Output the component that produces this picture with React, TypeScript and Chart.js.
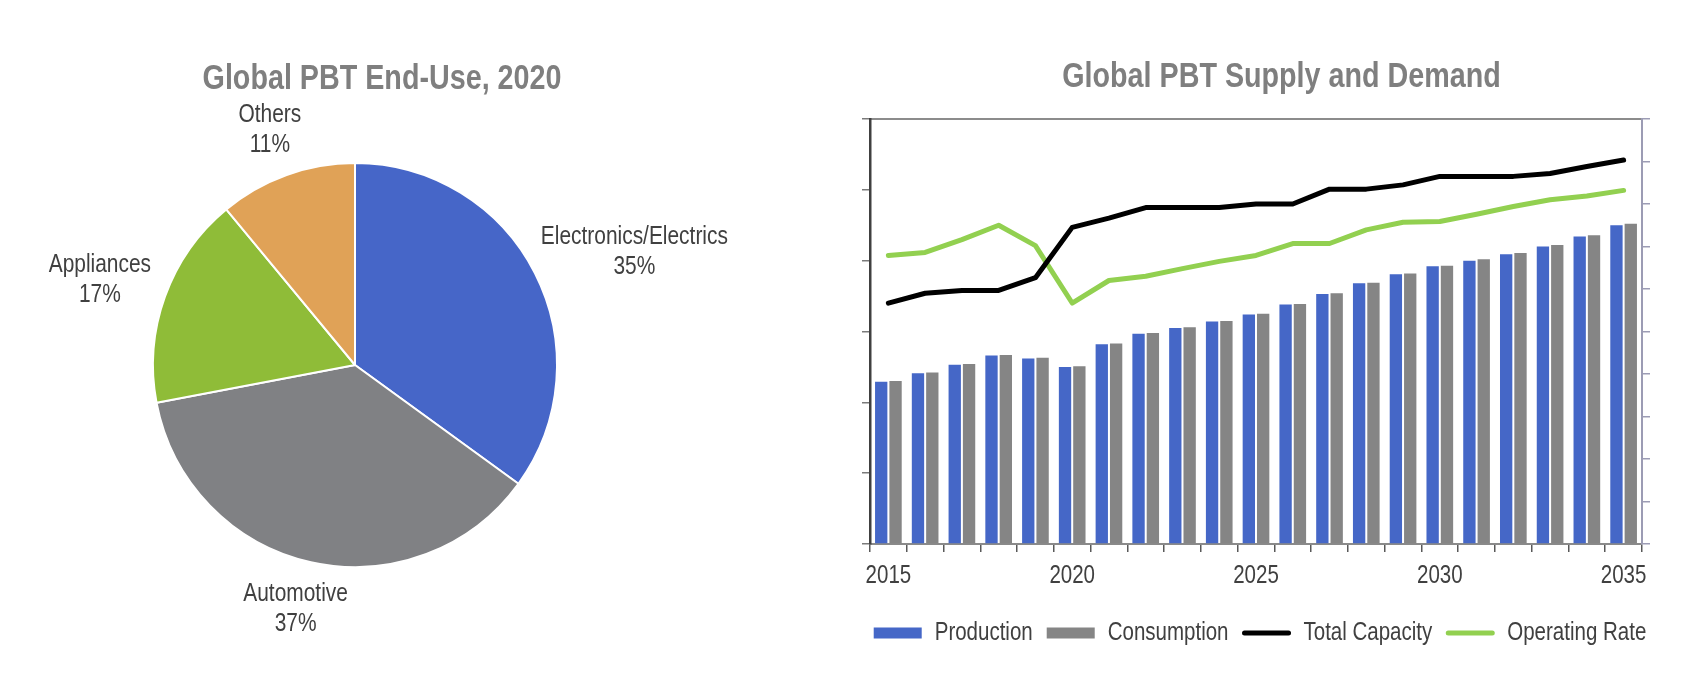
import React, { useEffect, useRef } from "react";
import { Chart, registerables } from "chart.js";

Chart.register(...registerables);

const FONT = '"Liberation Sans", Arial, sans-serif';
const NARROW = 0.82; // horizontal squeeze to imitate Arial Narrow
const TEXT_DARK = "#404040";
const TITLE_GRAY = "#7f7f7f";

// ---------- Pie data ----------
const pieTitle = "Global PBT End-Use, 2020";
const pieLabels = ["Electronics/Electrics", "Automotive", "Appliances", "Others"];
const pieValues = [35, 37, 17, 11];
const pieColors = ["#4666C8", "#808184", "#8FBC38", "#E0A257"];

// ---------- Supply / demand data ----------
const barTitle = "Global PBT Supply and Demand";
const years = [
  "2015", "2016", "2017", "2018", "2019", "2020", "2021", "2022", "2023", "2024", "2025",
  "2026", "2027", "2028", "2029", "2030", "2031", "2032", "2033", "2034", "2035",
];
const xTickLabels = ["2015", "2020", "2025", "2030", "2035"];
const production = [
  1145, 1205, 1265, 1330, 1310, 1250, 1410, 1485, 1525, 1570, 1620,
  1690, 1765, 1840, 1905, 1960, 2000, 2045, 2100, 2170, 2250,
];
const consumption = [
  1150, 1210, 1270, 1335, 1315, 1255, 1415, 1490, 1530, 1575, 1625,
  1695, 1770, 1845, 1910, 1965, 2010, 2055, 2110, 2180, 2260,
];
const totalCapacity = [
  1700, 1770, 1790, 1790, 1880, 2235, 2300, 2375, 2375, 2375, 2400,
  2400, 2505, 2505, 2535, 2595, 2595, 2595, 2615, 2665, 2710,
];
const operatingRate = [
  67.9, 68.6, 71.6, 75.0, 70.2, 56.7, 62.0, 63.0, 64.8, 66.5, 67.9,
  70.7, 70.7, 73.9, 75.7, 75.9, 77.6, 79.4, 81.0, 81.9, 83.2,
];
const seriesNames = ["Production", "Consumption", "Total Capacity", "Operating Rate"];
const seriesColors = ["#4567C7", "#858585", "#000000", "#92D050"];

// ---------- helpers ----------
function fillNarrow(ctx: CanvasRenderingContext2D, text: string, x: number, y: number, sx: number) {
  ctx.save();
  ctx.translate(x, y);
  ctx.scale(sx, 1);
  ctx.fillText(text, 0, 0);
  ctx.restore();
}

// ---------- Plugins ----------
const canvasTitlePlugin = {
  id: "canvasTitle",
  afterDraw(chart: any, _args: any, opts: any) {
    if (!opts || !opts.text) return;
    const ctx = chart.ctx;
    ctx.save();
    ctx.font = `bold ${opts.size}px ${FONT}`;
    ctx.fillStyle = opts.color;
    ctx.textAlign = "center";
    ctx.textBaseline = "alphabetic";
    fillNarrow(ctx, opts.text, chart.width / 2 + (opts.offsetX || 0), opts.baseline, NARROW);
    ctx.restore();
  },
};

const pieLabelPlugin = {
  id: "pieLabels",
  afterDatasetsDraw(chart: any, _args: any, opts: any) {
    const meta = chart.getDatasetMeta(0);
    const ctx = chart.ctx;
    const data: number[] = chart.data.datasets[0].data;
    const total = data.reduce((a, b) => a + b, 0);
    ctx.save();
    ctx.font = `${opts.size}px ${FONT}`;
    ctx.fillStyle = opts.color;
    ctx.textAlign = "center";
    ctx.textBaseline = "middle";
    meta.data.forEach((arc: any, i: number) => {
      const p = arc.getProps(["x", "y", "startAngle", "endAngle", "outerRadius"], true);
      const mid = (p.startAngle + p.endAngle) / 2;
      const dx = Math.cos(mid);
      const dy = Math.sin(mid);
      const lines = [String(chart.data.labels[i]), Math.round((data[i] / total) * 100) + "%"];
      const w = Math.max(...lines.map((l) => ctx.measureText(l).width)) * NARROW;
      const h = lines.length * opts.lineHeight;
      const cx = p.x + dx * (p.outerRadius + opts.gap) + (dx * w) / 2;
      const cy = p.y + dy * (p.outerRadius + opts.gap) + (dy * h) / 2;
      lines.forEach((l, k) => fillNarrow(ctx, l, cx, cy - h / 2 + opts.lineHeight * (k + 0.5), NARROW));
    });
    ctx.restore();
  },
};

// x tick labels drawn through the category scale, with a narrow face
const narrowTicksPlugin = {
  id: "narrowTicks",
  afterDraw(chart: any, _args: any, opts: any) {
    const scale = chart.scales.x;
    const ctx = chart.ctx;
    ctx.save();
    ctx.font = `${opts.size}px ${FONT}`;
    ctx.fillStyle = opts.color;
    ctx.textAlign = "center";
    ctx.textBaseline = "middle";
    (chart.data.labels as string[]).forEach((lab, i) => {
      if (!xTickLabels.includes(lab)) return;
      fillNarrow(ctx, lab, scale.getPixelForValue(i), scale.bottom + opts.offsetY, NARROW);
    });
    ctx.restore();
  },
};

// legend drawn below the axis, narrow face
const narrowLegendPlugin = {
  id: "narrowLegend",
  afterDraw(chart: any, _args: any, opts: any) {
    const ctx = chart.ctx;
    ctx.save();
    ctx.font = `${opts.size}px ${FONT}`;
    const items = chart.data.datasets.map((ds: any, i: number) => ({
      text: ds.label as string,
      isLine: ds.type === "line",
      color: seriesColors[i],
      tw: ctx.measureText(ds.label).width * NARROW,
    }));
    const total =
      items.reduce((s: number, it: any) => s + opts.boxWidth + opts.gap + it.tw, 0) +
      opts.padding * (items.length - 1);
    const area = chart.chartArea;
    let x = (area.left + area.right) / 2 + opts.offsetX - total / 2;
    const y = area.bottom + opts.offsetY;
    items.forEach((it: any) => {
      if (it.isLine) {
        ctx.strokeStyle = it.color;
        ctx.lineWidth = opts.lineWidth;
        ctx.lineCap = "round";
        ctx.beginPath();
        ctx.moveTo(x + 2, y);
        ctx.lineTo(x + opts.boxWidth - 2, y);
        ctx.stroke();
      } else {
        ctx.fillStyle = it.color;
        ctx.fillRect(x, y - opts.boxHeight / 2, opts.boxWidth, opts.boxHeight);
      }
      ctx.fillStyle = opts.color;
      ctx.textAlign = "left";
      ctx.textBaseline = "middle";
      fillNarrow(ctx, it.text, x + opts.boxWidth + opts.gap, y, NARROW);
      x += opts.boxWidth + opts.gap + it.tw + opts.padding;
    });
    ctx.restore();
  },
};

function PieChart() {
  const ref = useRef<HTMLCanvasElement | null>(null);
  useEffect(() => {
    if (!ref.current) return;
    const chart = new Chart(ref.current, {
      type: "pie",
      data: {
        labels: pieLabels,
        datasets: [
          {
            data: pieValues,
            backgroundColor: pieColors,
            borderColor: "#ffffff",
            borderWidth: 2,
          },
        ],
      },
      options: {
        animation: false,
        responsive: false,
        layout: { padding: { left: 152, right: 206, top: 162, bottom: 119 } },
        plugins: {
          legend: { display: false },
          tooltip: { enabled: false },
          canvasTitle: { text: pieTitle, size: 35, color: TITLE_GRAY, baseline: 89, offsetX: 0 },
          pieLabels: { size: 25.5, color: TEXT_DARK, lineHeight: 30, gap: 18 },
        } as any,
      },
      plugins: [canvasTitlePlugin, pieLabelPlugin],
    } as any);
    return () => chart.destroy();
  }, []);
  return <canvas ref={ref} width={764} height={687} style={{ width: 764, height: 687 }} />;
}

function SupplyDemandChart() {
  const ref = useRef<HTMLCanvasElement | null>(null);
  useEffect(() => {
    if (!ref.current) return;
    const chart = new Chart(ref.current, {
      type: "bar",
      data: {
        labels: years,
        datasets: [
          {
            type: "bar",
            label: seriesNames[0],
            data: production,
            backgroundColor: seriesColors[0],
            yAxisID: "y",
            order: 3,
            categoryPercentage: 0.78,
            barPercentage: 0.86,
          },
          {
            type: "bar",
            label: seriesNames[1],
            data: consumption,
            backgroundColor: seriesColors[1],
            yAxisID: "y",
            order: 3,
            categoryPercentage: 0.78,
            barPercentage: 0.86,
          },
          {
            type: "line",
            label: seriesNames[2],
            data: totalCapacity,
            borderColor: seriesColors[2],
            backgroundColor: seriesColors[2],
            borderWidth: 5,
            pointRadius: 0,
            tension: 0,
            borderCapStyle: "round",
            borderJoinStyle: "round",
            yAxisID: "y",
            order: 0,
          },
          {
            type: "line",
            label: seriesNames[3],
            data: operatingRate,
            borderColor: seriesColors[3],
            backgroundColor: seriesColors[3],
            borderWidth: 5,
            pointRadius: 0,
            tension: 0,
            borderCapStyle: "round",
            borderJoinStyle: "round",
            yAxisID: "y1",
            order: 1,
          },
        ],
      },
      options: {
        animation: false,
        responsive: false,
        layout: { padding: { left: 42, right: 41, top: 119, bottom: 135 } },
        scales: {
          x: {
            type: "category",
            offset: true,
            grid: {
              offset: true,
              drawOnChartArea: false,
              drawTicks: true,
              tickLength: 8,
              color: "#595959",
              lineWidth: 1.5,
            },
            border: { display: true, color: "#8a8a8a", width: 2 },
            ticks: { display: false, autoSkip: false },
          },
          xTop: {
            type: "category",
            position: "top",
            grid: { display: false, drawTicks: false },
            border: { display: true, color: "#8c8c8c", width: 2 },
            ticks: { display: false },
          },
          y: {
            type: "linear",
            position: "left",
            min: 0,
            max: 3000,
            ticks: { stepSize: 500, display: false },
            grid: { drawOnChartArea: false, drawTicks: true, tickLength: 8, color: "#7a7a7a", lineWidth: 1.5 },
            border: { display: true, color: "#404040", width: 2.5 },
          },
          y1: {
            type: "linear",
            position: "right",
            min: 0,
            max: 100,
            ticks: { stepSize: 10, display: false },
            grid: { drawOnChartArea: false, drawTicks: true, tickLength: 8, color: "#9c9cb4", lineWidth: 1.5 },
            border: { display: true, color: "#9c9cb4", width: 2 },
          },
        },
        plugins: {
          tooltip: { enabled: false },
          legend: { display: false },
          canvasTitle: { text: barTitle, size: 35, color: TITLE_GRAY, baseline: 87, offsetX: 26 },
          narrowTicks: { size: 25, color: TEXT_DARK, offsetY: 24 },
          narrowLegend: {
            size: 25,
            color: TEXT_DARK,
            boxWidth: 48,
            boxHeight: 11,
            gap: 13,
            padding: 14,
            lineWidth: 5,
            offsetX: 4,
            offsetY: 89,
          },
        } as any,
      },
      plugins: [canvasTitlePlugin, narrowTicksPlugin, narrowLegendPlugin],
    } as any);
    return () => chart.destroy();
  }, []);
  return <canvas ref={ref} width={871} height={687} style={{ width: 871, height: 687 }} />;
}

export default function App() {
  return (
    <div
      style={{
        position: "absolute",
        left: 0,
        top: 0,
        width: 1691,
        height: 687,
        background: "#ffffff",
        overflow: "hidden",
      }}
    >
      <div style={{ position: "absolute", left: 0, top: 0 }}>
        <PieChart />
      </div>
      <div style={{ position: "absolute", left: 820, top: 0 }}>
        <SupplyDemandChart />
      </div>
    </div>
  );
}
